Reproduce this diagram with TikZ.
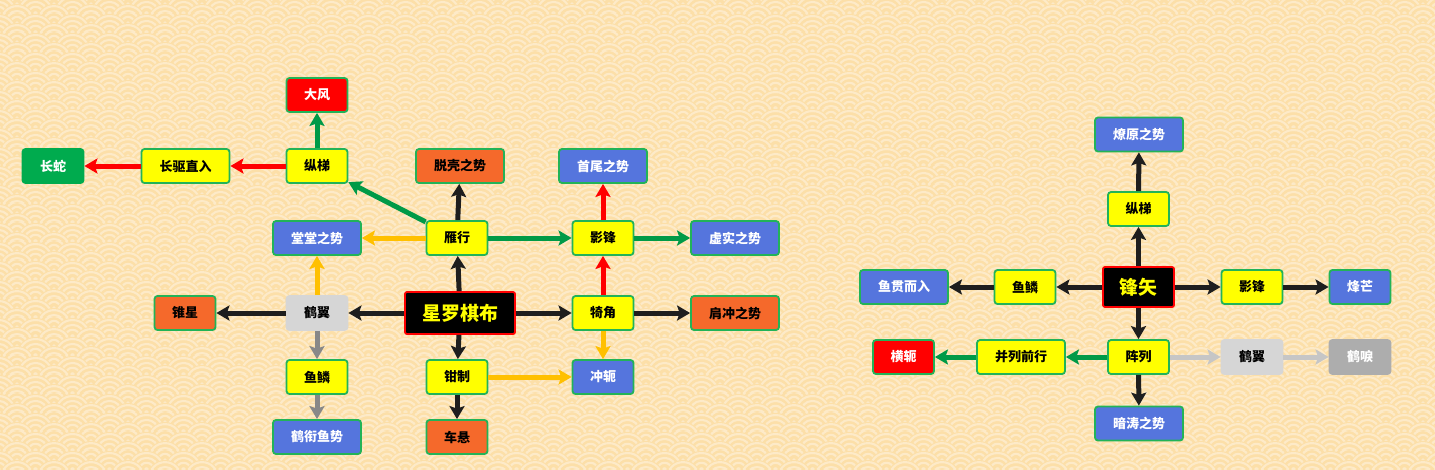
\documentclass[tikz,border=0pt]{standalone}
\usepackage{fontspec}
\newfontfamily\cjk{Noto Sans CJK SC}
\usetikzlibrary{arrows.meta,patterns.meta}
\definecolor{bgbase}{HTML}{FCDFA8}
\definecolor{bglight}{HTML}{FDEAC8}
\definecolor{nyellow}{HTML}{FFFF00}
\definecolor{nblue}{HTML}{5575DD}
\definecolor{norange}{HTML}{F5692B}
\definecolor{nred}{HTML}{FF0000}
\definecolor{ngreen}{HTML}{00AB4E}
\definecolor{nborder}{HTML}{22B358}
\definecolor{ngray}{HTML}{D6D6D6}
\definecolor{ndgray}{HTML}{ADADAD}
\definecolor{eblack}{HTML}{1E1E1E}
\definecolor{egreen}{HTML}{009A47}
\definecolor{ered}{HTML}{FF0000}
\definecolor{eyellow}{HTML}{FFC000}
\definecolor{egray}{HTML}{888888}
\definecolor{elgray}{HTML}{C6C6C6}
\definecolor{ctext}{HTML}{FFFF00}
\tikzdeclarepattern{
  name=seigaiha,
  type=colored,
  bounding box={(0pt,0pt) and (37pt,18.5pt)},
  tile size={(37pt,18.5pt)},
  code={
    \foreach \yy/\off in {37/0, 27.75/18.5, 18.5/0, 9.25/18.5, 0/0, -9.25/18.5, -18.5/0} {
      \foreach \xb in {-37,0,37,74} {
        \pgfmathsetmacro\xx{\xb+\off}
        \fill[bgbase] (\xx pt,\yy pt) circle (18.5pt);
        \draw[bglight, line width=2.2pt] (\xx pt,\yy pt) circle (16.3pt) (\xx pt,\yy pt) circle (11.3pt) (\xx pt,\yy pt) circle (6.3pt);
        \fill[bglight] (\xx pt,\yy pt) circle (2pt);
      }
    }
  }
}
\tikzset{
 box/.style={draw=nborder, line width=1.8pt, rounded corners=3pt, minimum height=34pt, inner sep=0pt, font=\cjk\bfseries\fontsize{13pt}{15pt}\selectfont},
 wtwo/.style={minimum width=61pt},
 wfour/.style={minimum width=88pt},
 yel/.style={box, fill=nyellow, text=black},
 blu/.style={box, fill=nblue, text=white},
 ora/.style={box, fill=norange, text=black},
 redn/.style={box, fill=nred, text=white},
 grn/.style={box, fill=ngreen, draw=ngreen, text=white},
 gry/.style={box, fill=ngray, draw=ngray, text=black},
 dgry/.style={box, fill=ndgray, draw=ndgray, text=white},
 hub/.style={draw=nred, line width=1.8pt, fill=black, text=ctext, rounded corners=2pt, inner sep=0pt, font=\cjk\bfseries\fontsize{19pt}{22pt}\selectfont},
 conn/.style={line width=5pt, -{Stealth[length=13pt,width=15pt,inset=2.5pt]}},
 cb/.style={conn, draw=eblack},
 cg/.style={conn, draw=egreen},
 cr/.style={conn, draw=ered},
 cy/.style={conn, draw=eyellow},
 cgy/.style={conn, draw=egray},
 clg/.style={conn, draw=elgray},
}
\begin{document}
\begin{tikzpicture}[x=1pt,y=1pt]
\useasboundingbox (0,0) rectangle (1435,-469);
% background
\fill[bgbase] (0,0) rectangle (1435,-469);
\fill[pattern=seigaiha] (0,0) rectangle (1435,-469);
% left cluster nodes
\node[redn,wtwo] (dafeng) at (317,-95) {大风};
\node[grn,wtwo] (changshe) at (53,-166) {长蛇};
\node[yel,wfour] (changqu) at (185.5,-166) {长驱直入};
\node[yel,wtwo] (zongti) at (317,-166) {纵梯};
\node[ora,wfour] (tuoke) at (460,-166) {脱壳之势};
\node[blu,wfour] (shouwei) at (603,-166) {首尾之势};
\node[blu,wfour] (tangtang) at (317,-238) {堂堂之势};
\node[yel,wtwo] (yanxing) at (457,-238) {雁行};
\node[yel,wtwo] (yingfeng) at (603,-238) {影锋};
\node[blu,wfour] (xushi) at (735,-238) {虚实之势};
\node[ora,wtwo] (zhuixing) at (185,-313) {锥星};
\node[gry,wtwo] (heyi) at (317,-313) {鹤翼};
\node[hub,minimum width=110pt,minimum height=42pt] (xingluo) at (460,-313) {星罗棋布};
\node[yel,wtwo] (jijiao) at (603,-313) {犄角};
\node[ora,wfour] (jianchong) at (735,-313) {肩冲之势};
\node[yel,wtwo] (yulin) at (317,-377) {鱼鳞};
\node[yel,wtwo] (qianzhi) at (457,-377) {钳制};
\node[blu,wtwo] (chonge) at (603,-377) {冲轭};
\node[blu,wfour] (hexian) at (317,-437) {鹤衔鱼势};
\node[ora,wtwo] (chexuan) at (457,-437) {车悬};
% right cluster nodes
\node[blu,wfour] (liaoyuan) at (1139,-134.5) {燎原之势};
\node[yel,wtwo] (zongtib) at (1138.5,-209) {纵梯};
\node[hub,minimum width=71pt,minimum height=40pt] (fengshi) at (1138.5,-287) {锋矢};
\node[yel,wtwo] (yulinb) at (1025,-287) {鱼鳞};
\node[blu,wfour] (yuguan) at (904,-287) {鱼贯而入};
\node[yel,wtwo] (yingfengb) at (1252,-287) {影锋};
\node[blu,wtwo] (fengmang) at (1360,-287) {烽芒};
\node[yel,wtwo] (zhenlie) at (1138.5,-357) {阵列};
\node[yel,wfour] (bingl) at (1021,-357) {并列前行};
\node[redn,wtwo] (henge) at (903.5,-357) {横轭};
\node[gry,wtwo] (heyib) at (1252,-357) {鹤翼};
\node[dgry,wtwo] (heli) at (1360,-357) {鹤唳};
\node[blu,wfour] (antao) at (1139,-423.5) {暗涛之势};
% left cluster edges
\draw[cg] (zongti) -- (dafeng);
\draw[cr] (zongti) -- (changqu);
\draw[cr] (changqu) -- (changshe);
\draw[cg] (yanxing) -- (zongti);
\draw[cb] (yanxing) -- (tuoke);
\draw[cy] (yanxing) -- (tangtang);
\draw[cg] (yanxing) -- (yingfeng);
\draw[cr] (yingfeng) -- (shouwei);
\draw[cg] (yingfeng) -- (xushi);
\draw[cb] (xingluo) -- (yanxing);
\draw[cb] (xingluo) -- (heyi);
\draw[cb] (xingluo) -- (jijiao);
\draw[cb] (xingluo) -- (qianzhi);
\draw[cr] (jijiao) -- (yingfeng);
\draw[cb] (jijiao) -- (jianchong);
\draw[cy] (jijiao) -- (chonge);
\draw[cy] (heyi) -- (tangtang);
\draw[cb] (heyi) -- (zhuixing);
\draw[cgy] (heyi) -- (yulin);
\draw[cgy] (yulin) -- (hexian);
\draw[cy] (qianzhi) -- (chonge);
\draw[cb] (qianzhi) -- (chexuan);
% right cluster edges
\draw[cb] (fengshi) -- (zongtib);
\draw[cb] (zongtib) -- (liaoyuan);
\draw[cb] (fengshi) -- (yulinb);
\draw[cb] (yulinb) -- (yuguan);
\draw[cb] (fengshi) -- (yingfengb);
\draw[cb] (yingfengb) -- (fengmang);
\draw[cb] (fengshi) -- (zhenlie);
\draw[cg] (zhenlie) -- (bingl);
\draw[cg] (bingl) -- (henge);
\draw[clg] (zhenlie) -- (heyib);
\draw[clg] (heyib) -- (heli);
\draw[cb] (zhenlie) -- (antao);
\end{tikzpicture}
\end{document}
